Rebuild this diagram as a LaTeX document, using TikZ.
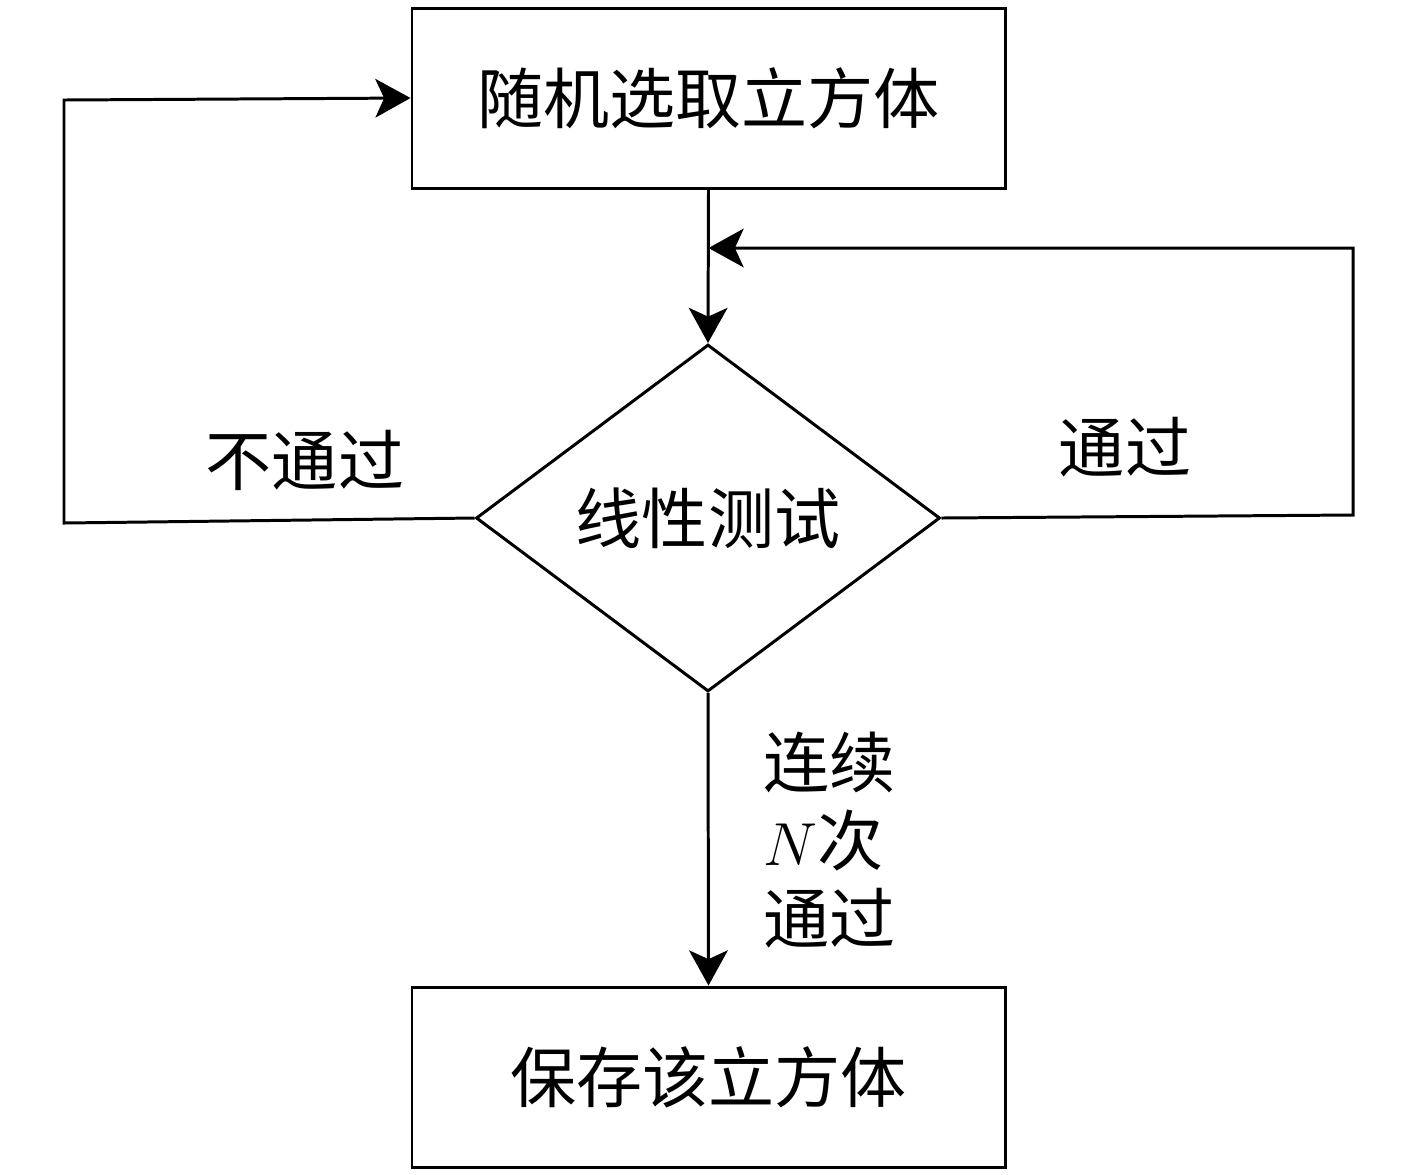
\documentclass[tikz,border=0pt]{standalone}
\usepackage{fontspec}
\newfontfamily\cjk{Noto Sans CJK SC}
\usetikzlibrary{shapes.geometric,arrows.meta}
\begin{document}
\begin{tikzpicture}[line width=0.85pt,
  box/.style={draw, rectangle, minimum width=5.93cm, minimum height=1.80cm, font=\cjk\fontsize{18.8pt}{22pt}\selectfont},
  dec/.style={draw, diamond, inner sep=0pt, minimum width=4.64cm, minimum height=3.47cm, font=\cjk\fontsize{18.8pt}{22pt}\selectfont},
  lbl/.style={font=\cjk\fontsize{18.8pt}{22.2pt}\selectfont},
  arr/.style={-{Stealth[length=10pt,width=11pt,inset=2.5pt]}}]
\useasboundingbox (0,0) rectangle (14.17,-11.74);
\node[box] (top) at (7.085,-0.98){随机选取立方体};
\node[dec] (dia) at (7.08,-5.18){线性测试};
\node[box] (bot) at (7.085,-10.77){保存该立方体};
\coordinate (lc1) at (0.64,-5.23);
\coordinate (lc2) at (0.64,-1.00);
\coordinate (rc1) at (13.53,-5.15);
\coordinate (rc2) at (13.53,-2.48);
\coordinate (rc3) at (7.085,-2.48);
\draw[arr](top.south) -- (dia.north);
\draw[arr](dia.south) -- (bot.north);
\draw[arr](dia.west) -- (lc1) -- (lc2) -- (top.west);
\draw[arr](dia.east) -- (rc1) -- (rc2) -- (rc3);
\node[lbl] (fail) at (3.05,-4.60){不通过};
\node[lbl] (pass) at (11.25,-4.47){通过};
\node[lbl, align=left, anchor=west] (ntimes) at (7.50,-8.40){连续\\$N$次\\通过};
\end{tikzpicture}
\end{document}
